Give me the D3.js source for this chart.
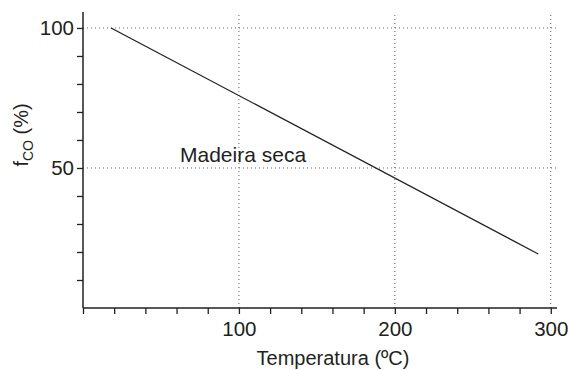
<!DOCTYPE html>
<html>
<head>
<meta charset="utf-8">
<script src="https://cdn.jsdelivr.net/npm/d3@7"></script>
<style>
  body { margin: 0; background: #fff; }
  text { font-family: "Liberation Sans", Arial, sans-serif; fill: #231f20; }
</style>
</head>
<body>
<script>
// data
const temps = [18, 292];
const fco = [100, 19.3];
const xTicks = d3.range(0, 301, 20);
const xLabels = [100, 200, 300];
const yTicks = d3.range(10, 101, 10);
const yLabels = [50, 100];
const seriesLabel = "Madeira seca";

const width = 569, height = 370;
const margin = { left: 83, right: 12, top: 12, bottom: 62 };

const svg = d3.select("body").append("svg")
  .attr("width", width)
  .attr("height", height);

const x = d3.scaleLinear().domain([0, 304]).range([margin.left, width - margin.right]);
const y = d3.scaleLinear().domain([0, 105.7]).range([height - margin.bottom, margin.top]);

// dotted grid
svg.append("g").selectAll("line").data(xLabels).join("line")
  .attr("x1", d => x(d)).attr("x2", d => x(d))
  .attr("y1", y(0)).attr("y2", margin.top)
  .attr("stroke", "#666").attr("stroke-width", 1)
  .attr("stroke-dasharray", "1,3");

svg.append("g").selectAll("line").data(yLabels).join("line")
  .attr("x1", x(0)).attr("x2", width - margin.right)
  .attr("y1", d => y(d)).attr("y2", d => y(d))
  .attr("stroke", "#666").attr("stroke-width", 1)
  .attr("stroke-dasharray", "1,3");

// axes
const xAxis = svg.append("g")
  .attr("transform", `translate(0,${y(0)})`)
  .call(d3.axisBottom(x).tickValues(xTicks).tickSize(6)
    .tickFormat(d => xLabels.includes(d) ? d : ""));

const yAxis = svg.append("g")
  .attr("transform", `translate(${x(0)},0)`)
  .call(d3.axisLeft(y).tickValues(yTicks).tickSize(6)
    .tickFormat(d => yLabels.includes(d) ? d : ""));

[xAxis, yAxis].forEach(g => {
  g.select(".domain").attr("stroke", "#231f20").attr("stroke-width", 1.5);
  g.selectAll(".tick line").attr("stroke", "#231f20").attr("stroke-width", 1.3);
  g.selectAll("text").attr("font-size", 20.5).attr("fill", "#231f20")
    .style("font-family", '"Liberation Sans", Arial, sans-serif');
});
xAxis.select(".domain").attr("d", `M${x(0)},0H${width - margin.right}`);
yAxis.select(".domain").attr("d", `M0,${y(0)}V${margin.top}`);
xAxis.selectAll("text").attr("dy", "0.95em");
yAxis.selectAll("text").attr("x", -9);

// series
const pts = temps.map((t, i) => [t, fco[i]]);
svg.append("path")
  .datum(pts)
  .attr("fill", "none")
  .attr("stroke", "#231f20")
  .attr("stroke-width", 1.3)
  .attr("d", d3.line().x(d => x(d[0])).y(d => y(d[1])));

svg.append("text")
  .attr("x", 180).attr("y", 162)
  .attr("font-size", 21)
  .text(seriesLabel);

// axis titles
svg.append("text")
  .attr("x", 333).attr("y", 365)
  .attr("text-anchor", "middle")
  .attr("font-size", 20)
  .text("Temperatura (ºC)");

const yt = svg.append("text")
  .attr("transform", `translate(28,135) rotate(-90)`)
  .attr("text-anchor", "middle")
  .attr("font-size", 20);
yt.append("tspan").text("f");
yt.append("tspan").attr("font-size", 14).attr("dy", 5).text("CO");
yt.append("tspan").attr("dy", -5).text(" (%)");
</script>
</body>
</html>
